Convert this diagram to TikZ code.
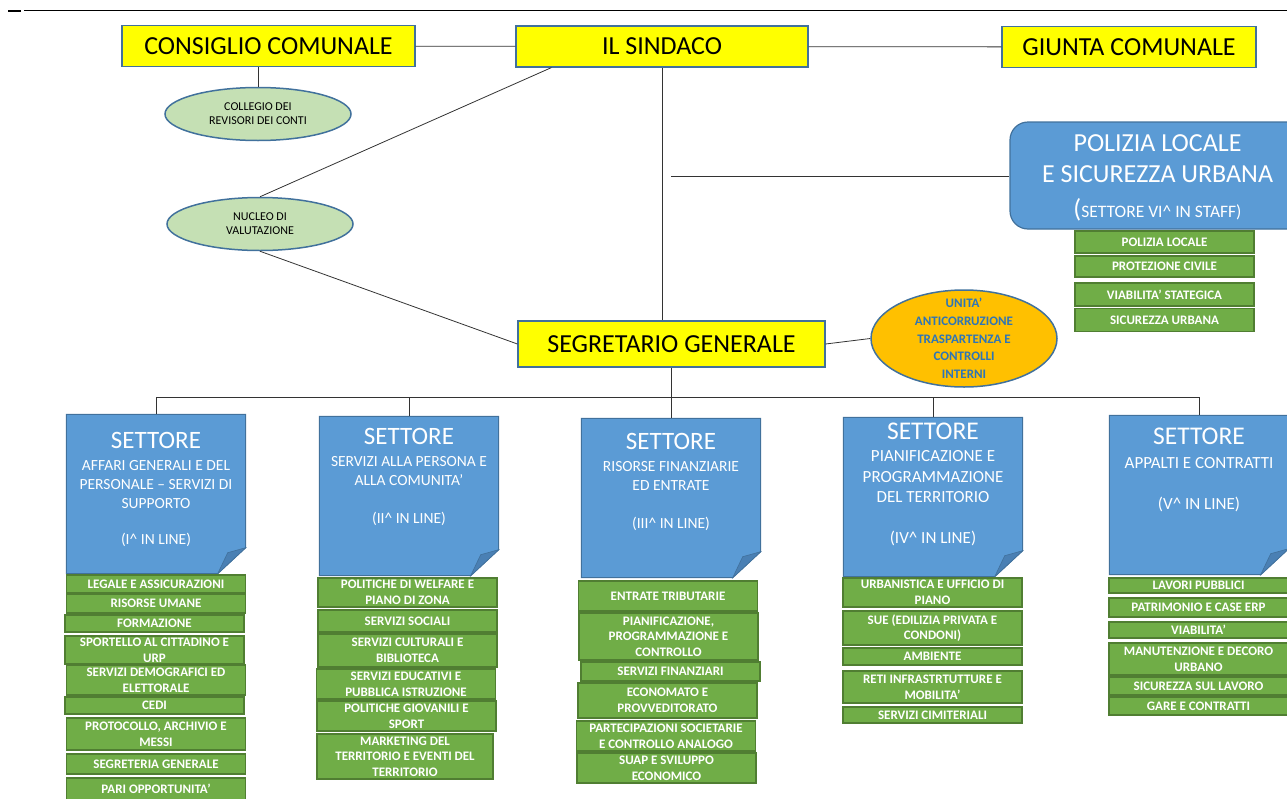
\documentclass[tikz,border=0pt]{standalone}
\usepackage{fontspec}
\setmainfont{Carlito}
\usepackage{xcolor}
\usetikzlibrary{positioning,shapes.geometric,backgrounds,calc}

\definecolor{boxyel}{HTML}{FFFF00}
\definecolor{edgeblue}{HTML}{41719C}
\definecolor{setblue}{HTML}{5B9BD5}
\definecolor{foldblue}{HTML}{4A80B4}
\definecolor{ufgreen}{HTML}{70AD47}
\definecolor{ufedge}{HTML}{507E32}
\definecolor{ellgreen}{HTML}{C5E0B4}
\definecolor{antorange}{HTML}{FFC000}
\definecolor{anttext}{HTML}{2E75B6}

\begin{document}
\begin{tikzpicture}[x=1pt, y=-1pt,
  organo/.style={draw=edgeblue, line width=1.2pt, fill=boxyel, inner sep=0pt,
                 font=\fontsize{26}{30}\selectfont, minimum height=41pt},
  ovale/.style={ellipse, draw=edgeblue, line width=1.5pt, fill=ellgreen, inner sep=0pt,
                minimum width=186pt, minimum height=53pt, align=center,
                font=\fontsize{12}{14}\selectfont},
  settore/.style={minimum width=179pt, minimum height=159pt, inner sep=0pt},
  settxt/.style={anchor=north, align=center, inner sep=0pt, text=white,
                 font=\fontsize{15.5}{19}\selectfont},
  uff/.style={draw=ufedge, line width=1.2pt, fill=ufgreen, text=white, align=center,
              inner sep=0pt, minimum width=179pt, font=\bfseries\fontsize{13}{15.7}\selectfont},
  link/.style={draw=black!80, line width=0.8pt},
]
\useasboundingbox (0,0) rectangle (1287,798);

% page rule
\draw[line width=0.8pt] (24,10) -- (1287,10);
\draw[line width=2pt] (8,11) -- (21,11);

% Top row: organi
\node[organo, minimum width=293pt] (consiglio) at (268.5,46) {CONSIGLIO COMUNALE};
\node[organo, minimum width=292pt] (sindaco) at (662,46.5) {IL SINDACO};
\node[organo, minimum width=254pt] (giunta) at (1129,47) {GIUNTA COMUNALE};

\node[ovale] (revisori) at (258,114) {COLLEGIO DEI\\REVISORI DEI CONTI};
\node[ovale] (nucleo) at (260,224) {NUCLEO DI\\VALUTAZIONE};

\node[organo, minimum width=307pt, minimum height=46pt] (segretario) at (671.5,344) {SEGRETARIO GENERALE};

% staff
\node[draw=edgeblue, line width=1.2pt, fill=setblue, rounded corners=18pt,
      minimum width=295pt, minimum height=107pt, inner sep=0pt, text=white, align=center,
      font=\fontsize{26}{31}\selectfont] (polizia) at (1157.5,175.5)
  {\rule{0pt}{22pt}POLIZIA LOCALE\\E SICUREZZA URBANA\\[4pt]{\fontsize{26}{26}\selectfont(}\fontsize{17.5}{20}\selectfont SETTORE VI\textasciicircum{} IN STAFF)};
\node[uff, minimum height=22pt] (p1) at (1164.5,242) {POLIZIA LOCALE};
\node[uff, minimum height=21pt] (p2) at (1164.5,266.5) {PROTEZIONE CIVILE};
\node[uff, minimum height=23pt] (p3) at (1164.5,294.5) {VIABILITA’ STATEGICA};
\node[uff, minimum height=23pt] (p4) at (1164.5,320) {SICUREZZA URBANA};

\node[ellipse, draw=edgeblue, line width=1.5pt, fill=antorange, inner sep=0pt,
      minimum width=186pt, minimum height=97pt,
      label={[align=center, text=anttext, font=\bfseries\fontsize{13}{17.7}\selectfont]center:UNITA’\\ANTICORRUZIONE\\TRASPARTENZA E\\CONTROLLI\\INTERNI}]
  (anticorr) at (964,338.5) {};

% Settori
\node[settore] (s1) at (156,494) {};
\node[settore] (s2) at (409,496) {};
\node[settore] (s3) at (671,498) {};
\node[settore] (s4) at (933,497) {};
\node[settore] (s5) at (1199,495) {};

\begin{scope}[on background layer]
\foreach \s in {s1,s2,s3,s4,s5}{
  \filldraw[draw=edgeblue, line width=1pt, fill=setblue]
    (\s.north west) -- (\s.north east) -- ([yshift=26pt]\s.south east)
    -- ([xshift=-28pt]\s.south east) -- (\s.south west) -- cycle;
  \filldraw[draw=edgeblue, line width=0.6pt, fill=foldblue]
    ([xshift=-28pt]\s.south east) -- ([xshift=-18pt,yshift=21pt]\s.south east)
    -- ([yshift=26pt]\s.south east) -- cycle;
}
\end{scope}

\node[settxt] (t1) at ([yshift=-18pt]s1.north)
  {{\fontsize{25}{25}\selectfont SETTORE}\\[3pt]AFFARI GENERALI E DEL\\PERSONALE – SERVIZI DI\\SUPPORTO\\[17pt](I\textasciicircum{} IN LINE)};
\node[settxt] (t2) at ([yshift=-12pt]s2.north)
  {{\fontsize{25}{25}\selectfont SETTORE}\\[3pt]SERVIZI ALLA PERSONA E\\ALLA COMUNITA’\\[19pt](II\textasciicircum{} IN LINE)};
\node[settxt] (t3) at ([yshift=-15pt]s3.north)
  {{\fontsize{25}{25}\selectfont SETTORE}\\[3pt]RISORSE FINANZIARIE\\ED ENTRATE\\[19pt](III\textasciicircum{} IN LINE)};
\node[settxt, font=\fontsize{17}{20.5}\selectfont] (t4) at ([yshift=-5pt]s4.north)
  {{\fontsize{25.5}{25.5}\selectfont SETTORE}\\[2pt]PIANIFICAZIONE E\\PROGRAMMAZIONE\\DEL TERRITORIO\\[20pt](IV\textasciicircum{} IN LINE)};
\node[settxt, font=\fontsize{17}{20.5}\selectfont] (t5) at ([yshift=-12pt]s5.north)
  {{\fontsize{25.5}{25.5}\selectfont SETTORE}\\[4pt]APPALTI E CONTRATTI\\[20pt](V\textasciicircum{} IN LINE)};

% Uffici settore I
\node[uff, minimum height=18pt] (u11) at (156,584) {LEGALE E ASSICURAZIONI};
\node[uff, minimum height=19pt] (u12) at (156,603.5) {RISORSE UMANE};
\node[uff, minimum height=17pt] (u13) at (154.5,623.5) {FORMAZIONE};
\node[uff, minimum height=28pt] (u14) at (154.5,650) {SPORTELLO AL CITTADINO E\\URP};
\node[uff, minimum height=30pt] (u15) at (156,680) {SERVIZI DEMOGRAFICI ED\\ELETTORALE};
\node[uff, minimum height=17pt] (u16) at (154.5,705.5) {CEDI};
\node[uff, minimum height=32pt] (u17) at (156,734) {PROTOCOLLO, ARCHIVIO E\\MESSI};
\node[uff, minimum height=20pt] (u18) at (156,764) {SEGRETERIA GENERALE};
\node[uff, minimum height=22pt] (u19) at (156,789) {PARI OPPORTUNITA’};

% Uffici settore II
\node[uff, minimum height=29pt] (u21) at (407.5,592.5) {POLITICHE DI WELFARE E\\PIANO DI ZONA};
\node[uff, minimum height=22pt] (u22) at (407.5,621) {SERVIZI SOCIALI};
\node[uff, minimum height=33pt] (u23) at (407.5,650.5) {SERVIZI CULTURALI E\\BIBLIOTECA};
\node[uff, minimum height=30pt] (u24) at (406,684) {SERVIZI EDUCATIVI E\\PUBBLICA ISTRUZIONE};
\node[uff, minimum height=30pt] (u25) at (406.5,716) {POLITICHE GIOVANILI E\\SPORT};
\node[uff, minimum height=45pt, minimum width=176pt] (u26) at (405,756.5) {MARKETING DEL\\TERRITORIO E EVENTI DEL\\TERRITORIO};

% Uffici settore III
\node[uff, minimum height=30pt] (u31) at (668,596) {ENTRATE TRIBUTARIE};
\node[uff, minimum height=47pt] (u32) at (668.5,636.5) {PIANIFICAZIONE,\\PROGRAMMAZIONE E\\CONTROLLO};
\node[uff, minimum height=19pt] (u33) at (670.5,671.5) {SERVIZI FINANZIARI};
\node[uff, minimum height=35pt] (u34) at (667.5,700.5) {ECONOMATO E\\PROVVEDITORATO};
\node[uff, minimum height=30pt] (u35) at (666,736) {PARTECIPAZIONI SOCIETARIE\\E CONTROLLO ANALOGO};
\node[uff, minimum height=30pt] (u36) at (666.5,768) {SUAP E SVILUPPO\\ECONOMICO};

% Uffici settore IV
\node[uff, minimum height=29pt] (u41) at (932.5,592.5) {URBANISTICA E UFFICIO DI\\PIANO};
\node[uff, minimum height=34pt] (u42) at (932.5,628) {SUE (EDILIZIA PRIVATA E\\CONDONI)};
\node[uff, minimum height=17pt] (u43) at (932.5,656.5) {AMBIENTE};
\node[uff, minimum height=32pt] (u44) at (932.5,687) {RETI INFRASTRTUTTURE E\\MOBILITA’};
\node[uff, minimum height=16pt] (u45) at (932.5,715) {SERVIZI CIMITERIALI};

% Uffici settore V
\node[uff, minimum height=15pt] (u51) at (1198.5,585.5) {LAVORI PUBBLICI};
\node[uff, minimum height=19pt] (u52) at (1198.5,607.5) {PATRIMONIO E CASE ERP};
\node[uff, minimum height=16pt] (u53) at (1198.5,630) {VIABILITA’};
\node[uff, minimum height=32pt] (u54) at (1198.5,659) {MANUTENZIONE E DECORO\\URBANO};
\node[uff, minimum height=18pt] (u55) at (1198.5,686) {SICUREZZA SUL LAVORO};
\node[uff, minimum height=18pt] (u56) at (1198.5,706) {GARE E CONTRATTI};

% Connectors
\draw[link] (consiglio) -- (sindaco);
\draw[link] (sindaco) -- (giunta);
\draw[link] (revisori.north |- consiglio.south) -- (revisori.north);
\draw[link] ([xshift=36pt]sindaco.south west) -- (nucleo.north);
\draw[link] (nucleo.south) -- (segretario.west);
\draw[link] (sindaco.south) -- (sindaco.south |- segretario.north);
\coordinate (staff) at (671,176);
\draw[link] (staff) -- (staff -| polizia.west);
\draw[link] (segretario.east) -- (anticorr.west);

% bus to settori
\coordinate (bus) at (671,397);
\draw[link] (segretario.south) -- (segretario.south |- bus);
\draw[link] (s1.north) -- (s1.north |- bus) -- (s5.north |- bus) -- (s5.north);
\foreach \s in {s2,s3,s4} \draw[link] (\s.north |- bus) -- (\s.north);
\end{tikzpicture}
\end{document}
